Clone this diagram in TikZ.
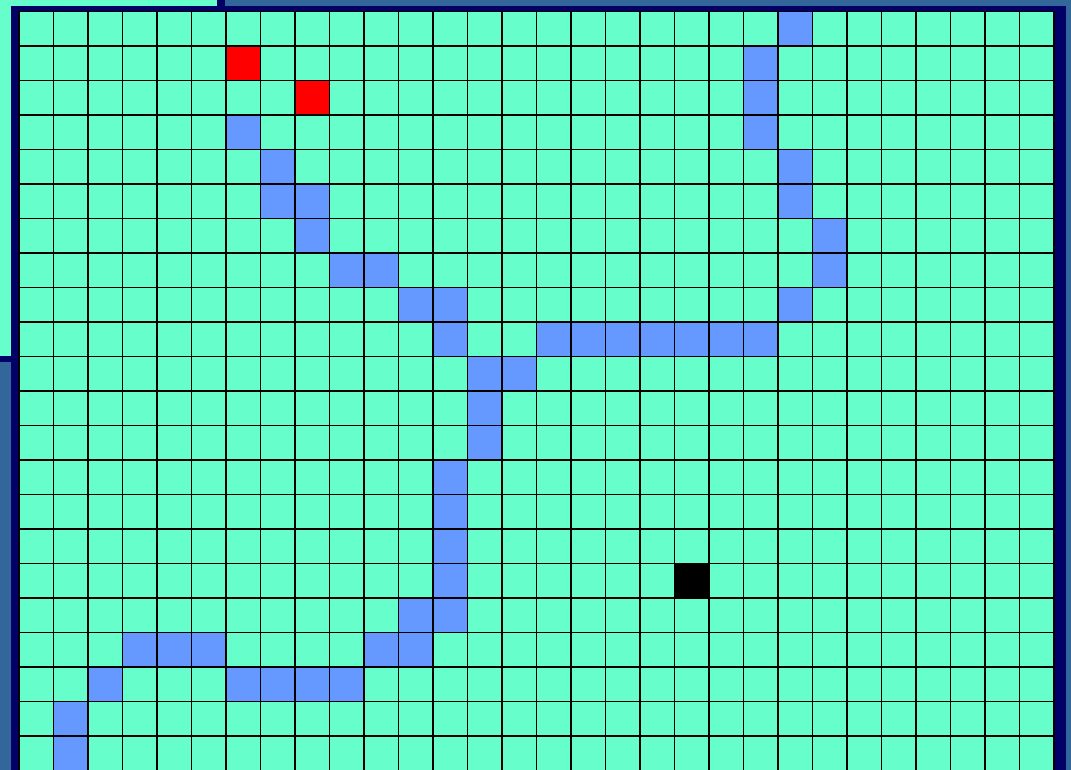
\documentclass[tikz,border=0pt]{standalone}
\usepackage{xcolor}
\usepackage{tikz}
\definecolor{meadow}{HTML}{66FFCC}
\definecolor{trailblue}{HTML}{6699FF}
\definecolor{framenavy}{HTML}{000066}
\definecolor{deskblue}{HTML}{336699}
\tikzset{
  gridline/.style={black, line width=0.65pt},
  trail/.style={fill=trailblue},
  target/.style={fill=red},
  walker/.style={fill=black},
}

\begin{document}
\begin{tikzpicture}[x=0.5pt,y=-0.5pt]
\useasboundingbox (0,0) rectangle (1071,770);
% desktop behind the window
\fill[deskblue] (0,0) rectangle (1071,770);
\fill[meadow] (0,0) rectangle (217,6);
\fill[meadow] (0,0) rectangle (11,356);
\fill[framenavy] (217,0) rectangle (225,6);
\fill[framenavy] (0,356) rectangle (11,362);
% window frame
\fill[framenavy] (11,6) rectangle (1066,770);
% board: 30 x 22 cells
\begin{scope}[xshift=9.5pt, yshift=-5.75pt, x=17.25pt, y=-17.25pt]
\fill[meadow] (0,0) rectangle (30,22);
% visited path
\foreach \c/\r in {22/0,21/1,21/2,21/3,22/4,22/5,23/6,23/7,22/8,
    15/9,16/9,17/9,18/9,19/9,20/9,21/9,12/9,
    6/3,7/4,7/5,8/5,8/6,9/7,10/7,11/8,12/8,
    13/10,14/10,13/11,13/12,12/13,12/14,12/15,12/16,11/17,12/17,
    3/18,4/18,5/18,10/18,11/18,2/19,6/19,7/19,8/19,9/19,1/20,1/21}
  \fill[trail] (\c,\r) rectangle ++(1,1);
% targets and walker
\foreach \c/\r in {6/1,8/2}
  \fill[target] (\c,\r) rectangle ++(1,1);
\fill[walker] (19,16) rectangle ++(1,1);
% cell lines
\foreach \c in {0,...,30}
  \draw[gridline] (\c,0) -- (\c,22);
\foreach \r in {0,...,22}
  \draw[gridline] (0,\r) -- (30,\r);
\end{scope}
\end{tikzpicture}
\end{document}
